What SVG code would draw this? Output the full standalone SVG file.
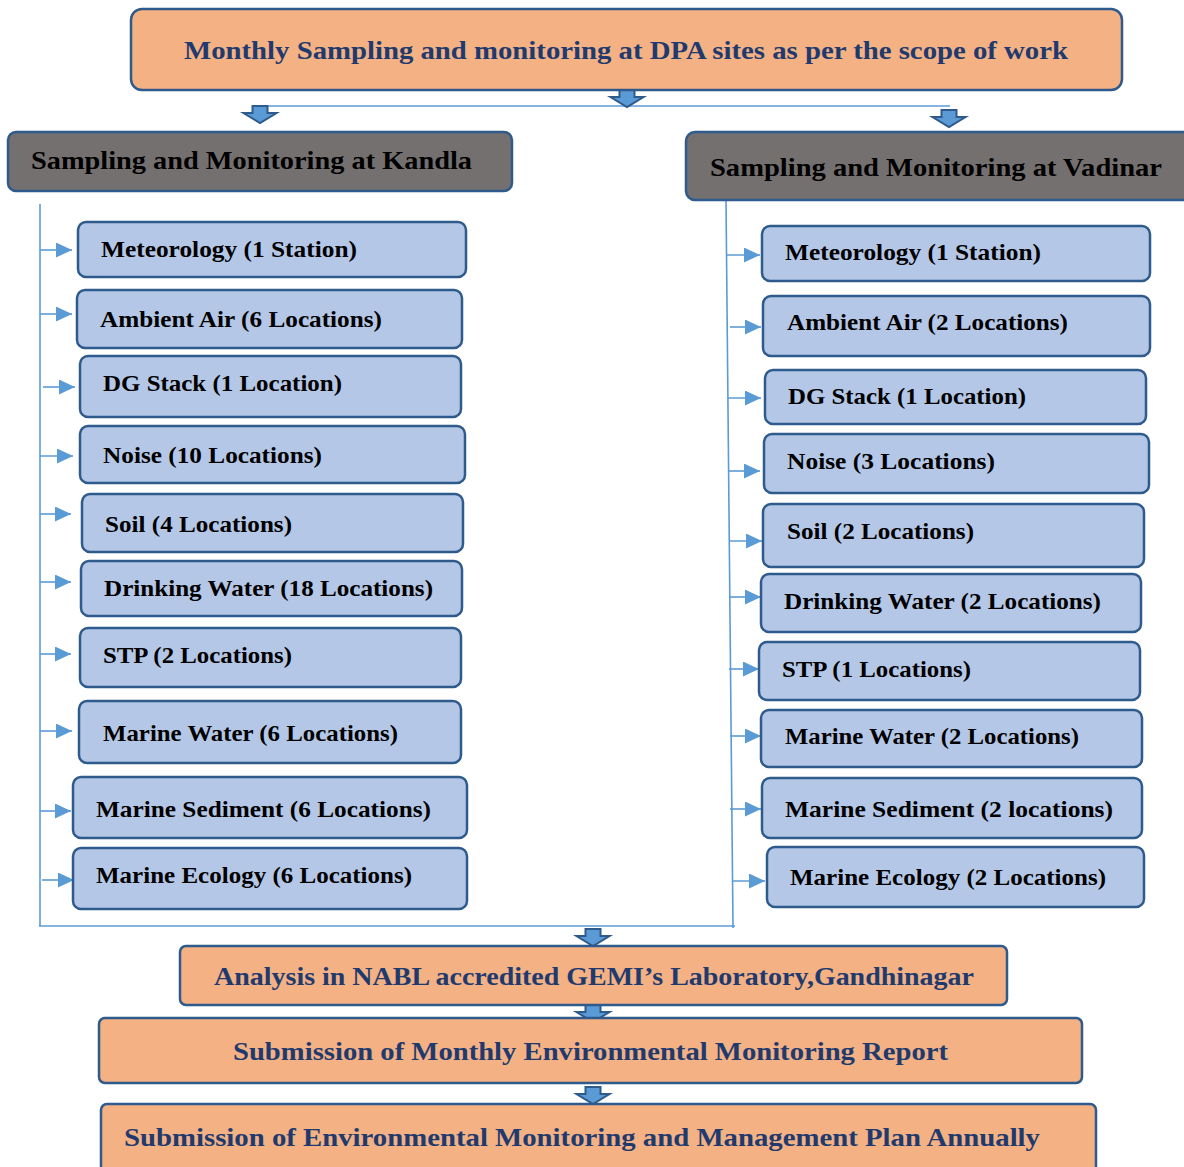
<svg xmlns="http://www.w3.org/2000/svg" width="1184" height="1167" viewBox="0 0 1184 1167">
<style>
.orange{fill:#F4B183;stroke:#2F5A8C;stroke-width:2.5}
.gray{fill:#757070;stroke:#2F5A8C;stroke-width:2.5}
.blue{fill:#B4C7E7;stroke:#2F5A8C;stroke-width:2.5}
.t{font-family:"Liberation Serif","Times New Roman",serif;font-weight:bold}
.navy{fill:#1F3A6E;font-size:26px}
.head{fill:#000;font-size:25px}
.item{fill:#000;font-size:23px}
.conn{stroke:#5B9BD5;stroke-width:1.6;fill:none}
.barrow{fill:#5B9BD5;stroke:#2F5A8C;stroke-width:2}
</style>
<defs>
<marker id="ah" markerUnits="userSpaceOnUse" markerWidth="17" markerHeight="15" refX="16" refY="7.5" orient="auto">
<path d="M0,0 L16,7.5 L0,15 Z" fill="#5B9BD5"/>
</marker>
<path id="blk" d="M-7.5,0 H7.5 V7 H16.5 L0,17 L-16.5,7 H-7.5 Z"/>
</defs>

<g id="connectors">
<line class="conn" x1="263" y1="106" x2="950" y2="106"/>
<line class="conn" x1="40" y1="204" x2="40" y2="926"/>
<line class="conn" x1="39" y1="926" x2="735" y2="926"/>
<line class="conn" x1="726" y1="200" x2="733" y2="928"/>
<g marker-end="url(#ah)">
<line class="conn" x1="40" y1="250" x2="72" y2="250"/>
<line class="conn" x1="40" y1="314" x2="72" y2="314"/>
<line class="conn" x1="43" y1="387" x2="75" y2="387"/>
<line class="conn" x1="40" y1="456" x2="73" y2="456"/>
<line class="conn" x1="40" y1="514" x2="71" y2="514"/>
<line class="conn" x1="40" y1="582" x2="71" y2="582"/>
<line class="conn" x1="40" y1="654" x2="71" y2="654"/>
<line class="conn" x1="40" y1="731" x2="72" y2="731"/>
<line class="conn" x1="40" y1="811" x2="71" y2="811"/>
<line class="conn" x1="42" y1="880" x2="74" y2="880"/>
<line class="conn" x1="727" y1="255" x2="760" y2="255"/>
<line class="conn" x1="730" y1="327" x2="761" y2="327"/>
<line class="conn" x1="728" y1="398" x2="761" y2="398"/>
<line class="conn" x1="728" y1="471" x2="760" y2="471"/>
<line class="conn" x1="729" y1="541" x2="762" y2="541"/>
<line class="conn" x1="729" y1="597" x2="761" y2="597"/>
<line class="conn" x1="729" y1="669" x2="759" y2="669"/>
<line class="conn" x1="730" y1="736" x2="761" y2="736"/>
<line class="conn" x1="730" y1="809" x2="761" y2="809"/>
<line class="conn" x1="732" y1="881" x2="765" y2="881"/>
</g>
<use href="#blk" class="barrow" x="260" y="106"/>
<use href="#blk" class="barrow" x="627" y="90"/>
<use href="#blk" class="barrow" x="949" y="110"/>
<use href="#blk" class="barrow" x="593" y="929"/>
<use href="#blk" class="barrow" x="593" y="1005"/>
<use href="#blk" class="barrow" x="593" y="1087"/>
</g>

<g id="top">
<rect class="orange" x="131" y="9" width="991" height="81" rx="11"/>
<text class="t navy" x="184" y="59" textLength="884" lengthAdjust="spacingAndGlyphs">Monthly Sampling and monitoring at DPA sites as per the scope of work</text>
</g>
<g id="kandla">
<rect class="gray" x="8" y="132" width="504" height="59" rx="8"/>
<text class="t head" x="31" y="169" textLength="441" lengthAdjust="spacingAndGlyphs">Sampling and Monitoring at Kandla</text>
</g>
<g id="vadinar">
<rect class="gray" x="686" y="132" width="508" height="68" rx="9"/>
<text class="t head" x="710" y="176" textLength="452" lengthAdjust="spacingAndGlyphs">Sampling and Monitoring at Vadinar</text>
</g>

<g id="k1"><rect class="blue" x="78" y="222" width="388" height="55" rx="8"/><text class="t item" x="101" y="257" textLength="256" lengthAdjust="spacingAndGlyphs">Meteorology (1 Station)</text></g>
<g id="k2"><rect class="blue" x="77" y="290" width="385" height="58" rx="8"/><text class="t item" x="100" y="327" textLength="282" lengthAdjust="spacingAndGlyphs">Ambient Air (6 Locations)</text></g>
<g id="k3"><rect class="blue" x="80" y="356" width="381" height="61" rx="8"/><text class="t item" x="103" y="391" textLength="239" lengthAdjust="spacingAndGlyphs">DG Stack (1 Location)</text></g>
<g id="k4"><rect class="blue" x="80" y="426" width="385" height="57" rx="8"/><text class="t item" x="103" y="463" textLength="219" lengthAdjust="spacingAndGlyphs">Noise (10 Locations)</text></g>
<g id="k5"><rect class="blue" x="82" y="494" width="381" height="58" rx="8"/><text class="t item" x="105" y="532" textLength="187" lengthAdjust="spacingAndGlyphs">Soil (4 Locations)</text></g>
<g id="k6"><rect class="blue" x="81" y="561" width="381" height="55" rx="8"/><text class="t item" x="104" y="596" textLength="329" lengthAdjust="spacingAndGlyphs">Drinking Water (18 Locations)</text></g>
<g id="k7"><rect class="blue" x="80" y="628" width="381" height="59" rx="8"/><text class="t item" x="103" y="663" textLength="189" lengthAdjust="spacingAndGlyphs">STP (2 Locations)</text></g>
<g id="k8"><rect class="blue" x="79" y="701" width="382" height="62" rx="8"/><text class="t item" x="103" y="741" textLength="295" lengthAdjust="spacingAndGlyphs">Marine Water (6 Locations)</text></g>
<g id="k9"><rect class="blue" x="73" y="777" width="394" height="61" rx="8"/><text class="t item" x="96" y="817" textLength="335" lengthAdjust="spacingAndGlyphs">Marine Sediment (6 Locations)</text></g>
<g id="k10"><rect class="blue" x="73" y="848" width="394" height="61" rx="8"/><text class="t item" x="96" y="883" textLength="316" lengthAdjust="spacingAndGlyphs">Marine Ecology (6 Locations)</text></g>

<g id="v1"><rect class="blue" x="762" y="226" width="388" height="55" rx="8"/><text class="t item" x="785" y="260" textLength="256" lengthAdjust="spacingAndGlyphs">Meteorology (1 Station)</text></g>
<g id="v2"><rect class="blue" x="763" y="296" width="387" height="60" rx="8"/><text class="t item" x="787" y="330" textLength="281" lengthAdjust="spacingAndGlyphs">Ambient Air (2 Locations)</text></g>
<g id="v3"><rect class="blue" x="765" y="370" width="381" height="54" rx="8"/><text class="t item" x="788" y="404" textLength="238" lengthAdjust="spacingAndGlyphs">DG Stack (1 Location)</text></g>
<g id="v4"><rect class="blue" x="764" y="434" width="385" height="59" rx="8"/><text class="t item" x="787" y="469" textLength="208" lengthAdjust="spacingAndGlyphs">Noise (3 Locations)</text></g>
<g id="v5"><rect class="blue" x="763" y="504" width="381" height="63" rx="8"/><text class="t item" x="787" y="539" textLength="187" lengthAdjust="spacingAndGlyphs">Soil (2 Locations)</text></g>
<g id="v6"><rect class="blue" x="761" y="574" width="380" height="58" rx="8"/><text class="t item" x="784" y="609" textLength="317" lengthAdjust="spacingAndGlyphs">Drinking Water (2 Locations)</text></g>
<g id="v7"><rect class="blue" x="759" y="642" width="381" height="58" rx="8"/><text class="t item" x="782" y="677" textLength="189" lengthAdjust="spacingAndGlyphs">STP (1 Locations)</text></g>
<g id="v8"><rect class="blue" x="761" y="710" width="381" height="57" rx="8"/><text class="t item" x="785" y="744" textLength="294" lengthAdjust="spacingAndGlyphs">Marine Water (2 Locations)</text></g>
<g id="v9"><rect class="blue" x="762" y="778" width="380" height="60" rx="8"/><text class="t item" x="785" y="817" textLength="328" lengthAdjust="spacingAndGlyphs">Marine Sediment (2 locations)</text></g>
<g id="v10"><rect class="blue" x="767" y="847" width="377" height="60" rx="8"/><text class="t item" x="790" y="885" textLength="316" lengthAdjust="spacingAndGlyphs">Marine Ecology (2 Locations)</text></g>

<g id="analysis">
<rect class="orange" x="180" y="946" width="827" height="59" rx="6"/>
<text class="t navy" x="214" y="985" textLength="760" lengthAdjust="spacingAndGlyphs">Analysis in NABL accredited GEMI’s Laboratory,Gandhinagar</text>
</g>
<g id="monthly">
<rect class="orange" x="99" y="1018" width="983" height="65" rx="6"/>
<text class="t navy" x="233" y="1060" textLength="715" lengthAdjust="spacingAndGlyphs">Submission of Monthly Environmental Monitoring Report</text>
</g>
<g id="emmp">
<rect class="orange" x="101" y="1104" width="995" height="72" rx="6"/>
<text class="t navy" x="124" y="1146" textLength="916" lengthAdjust="spacingAndGlyphs">Submission of Environmental Monitoring and Management Plan Annually</text>
</g>
</svg>
